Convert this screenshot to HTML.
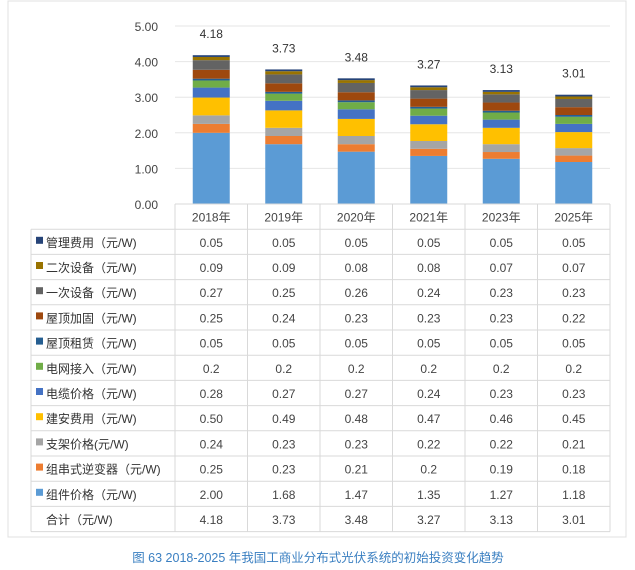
<!DOCTYPE html>
<html><head><meta charset="utf-8"><style>
body{margin:0;background:#fff;font-family:"Liberation Sans","Noto Sans CJK SC",sans-serif;}
#wrap{position:relative;width:635px;height:570px;overflow:hidden;}
</style></head><body>
<div id="wrap">
<svg id="svg" width="635" height="570"></svg>
</div>
<script>
const years=["2018年","2019年","2020年","2021年","2023年","2025年"];
const seriesNames=["组件价格（元/W)","组串式逆变器（元/W)","支架价格(元/W)","建安费用（元/W)","电缆价格（元/W)","电网接入（元/W)","屋顶租赁（元/W)","屋顶加固（元/W)","一次设备（元/W)","二次设备（元/W)","管理费用（元/W)"];
const colors=["#5B9BD5","#ED7D31","#A5A5A5","#FFC000","#4472C4","#70AD47","#255E91","#9E480E","#636363","#997300","#264478"];
const s0=[2.00,1.68,1.47,1.35,1.27,1.18];
const s1=[0.25,0.23,0.21,0.2,0.19,0.18];
const s2=[0.24,0.23,0.23,0.22,0.22,0.21];
const s3=[0.50,0.49,0.48,0.47,0.46,0.45];
const s4=[0.28,0.27,0.27,0.24,0.23,0.23];
const s5=[0.2,0.2,0.2,0.2,0.2,0.2];
const s6=[0.05,0.05,0.05,0.05,0.05,0.05];
const s7=[0.25,0.24,0.23,0.23,0.23,0.22];
const s8=[0.27,0.25,0.26,0.24,0.23,0.23];
const s9=[0.09,0.09,0.08,0.08,0.07,0.07];
const s10=[0.05,0.05,0.05,0.05,0.05,0.05];
const printed=[["2.00","1.68","1.47","1.35","1.27","1.18"],["0.25","0.23","0.21","0.2","0.19","0.18"],["0.24","0.23","0.23","0.22","0.22","0.21"],["0.50","0.49","0.48","0.47","0.46","0.45"],["0.28","0.27","0.27","0.24","0.23","0.23"],["0.2","0.2","0.2","0.2","0.2","0.2"],["0.05","0.05","0.05","0.05","0.05","0.05"],["0.25","0.24","0.23","0.23","0.23","0.22"],["0.27","0.25","0.26","0.24","0.23","0.23"],["0.09","0.09","0.08","0.08","0.07","0.07"],["0.05","0.05","0.05","0.05","0.05","0.05"]];
const totals=[4.18,3.73,3.48,3.27,3.13,3.01];
const yTicks=[0,1,2,3,4,5];
const series=[s0,s1,s2,s3,s4,s5,s6,s7,s8,s9,s10];

const NS="http://www.w3.org/2000/svg";
const svg=document.getElementById('svg');
function mk(t,a,txt){const e=document.createElementNS(NS,t);for(const k in a)e.setAttribute(k,a[k]);if(txt!==undefined)e.textContent=txt;svg.appendChild(e);return e;}
const X0=175,COLW=72.5,Y0=204,PX=35.6;
const y=v=>Y0-v*PX;
const xc=i=>X0+COLW*(i+0.5);
let e;
e=mk('rect',{x:8,y:1,width:618,height:536,fill:'none',stroke:'#e0e0e0'});

yTicks.forEach(t=>{
 e=mk('line',{x1:X0,x2:X0+COLW*6,y1:y(t),y2:y(t),stroke:'#e6e6e6'});
 
 e=mk('text',{x:158,y:y(t)+5,'text-anchor':'end','font-size':12,fill:'#444'},t.toFixed(2));
 
});
years.forEach((yr,i)=>{
 let acc=0;
 series.forEach((s,k)=>{
  e=mk('rect',{x:xc(i)-18.5,y:y(acc+s[i]),width:37,height:s[i]*PX,fill:colors[k]});
  
  acc+=s[i];
 });
 e=mk('text',{x:xc(i),y:y(acc)-17,'text-anchor':'middle','font-size':12,fill:'#333'},totals[i].toFixed(2));
 
});
// table
const TL=31,TR=X0+COLW*6,RH=25.2,HT=Y0;
const nRows=12;
for(let r=0;r<=nRows+1;r++){
 const yy=HT+r*RH;
 e=mk('line',{x1:r==0?X0:TL,x2:TR,y1:yy,y2:yy,stroke:'#d9d9d9'});
 
}
e=mk('line',{x1:TL,x2:TL,y1:HT+RH,y2:HT+RH*(nRows+1),stroke:'#d9d9d9'});

for(let c=0;c<=6;c++){
 e=mk('line',{x1:X0+COLW*c,x2:X0+COLW*c,y1:HT,y2:HT+RH*(nRows+1),stroke:'#d9d9d9'});
 
}
years.forEach((yr,i)=>{
 e=mk('text',{x:xc(i),y:HT+RH/2+5,'text-anchor':'middle','font-size':12,fill:'#444'},yr);
 
});
for(let r=0;r<11;r++){
 const k=10-r, yy=HT+RH*(r+1);
 e=mk('rect',{x:36,y:yy+RH/2-5,width:7,height:7,fill:colors[k]});
 
 e=mk('text',{x:46,y:yy+RH/2+5,'font-size':12,fill:'#333'},seriesNames[k]);
 
 years.forEach((yr,i)=>{
  e=mk('text',{x:xc(i),y:yy+RH/2+5,'text-anchor':'middle','font-size':12,fill:'#444'},printed[k][i]);
  
 });
}
{const yy=HT+RH*12;
 e=mk('text',{x:46,y:yy+RH/2+5,'font-size':12,fill:'#333'},'合计（元/W)');
 
 years.forEach((yr,i)=>{
  e=mk('text',{x:xc(i),y:yy+RH/2+5,'text-anchor':'middle','font-size':12,fill:'#444'},totals[i].toFixed(2));
  
 });
}
e=mk('text',{x:318,y:562,'text-anchor':'middle','font-size':12.5,fill:'#3a7fc1'},'图 63   2018-2025 年我国工商业分布式光伏系统的初始投资变化趋势');

</script>
</body></html>
